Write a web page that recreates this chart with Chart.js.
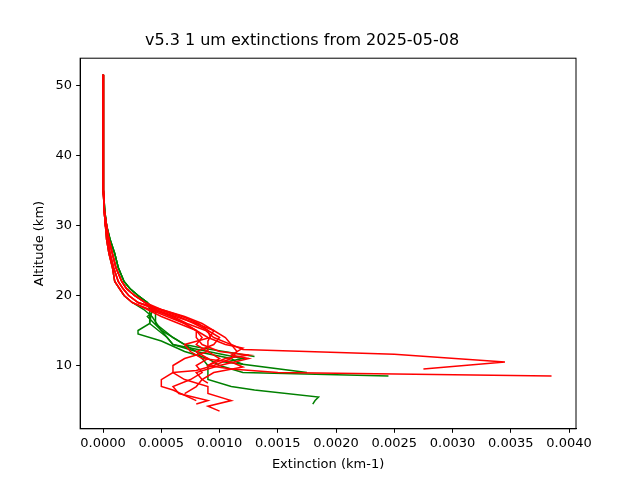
<!DOCTYPE html>
<html><head><meta charset="utf-8">
<script src="https://cdn.jsdelivr.net/npm/chart.js@4"></script>
<style>body{margin:0;background:#fff}#w{width:640px;height:480px}</style>
</head><body><div id="w"><canvas id="c"></canvas></div>
<script>
const titleText = "v5.3 1 um extinctions from 2025-05-08";
const xTicksLabel = "Extinction (km-1)";
const yTicksLabel = "Altitude (km)";
const xTickValues = [0,0.0005,0.001,0.0015,0.002,0.0025,0.003,0.0035,0.004];
const yTickValues = [10,20,30,40,50];
const upperA = [[0,51.5],[0,45],[0.000002,40],[0.000005,35],[0.00001,32],[0.00002,30],[0.00004,28],[0.00006,26],[0.00009,24],[0.00013,22],[0.00017,21],[0.00022,20],[0.0003,19]];
const upperB = [[0,51.5],[0,45],[0.000002,40],[0.000006,35],[0.000012,32],[0.00003,30],[0.00005,28],[0.00008,26],[0.00011,24],[0.00016,22],[0.0002,21],[0.00027,20],[0.00036,19]];
const upperC = [[0,51.5],[0,45],[0.000001,40],[0.000004,35],[0.00001,32],[0.00002,30],[0.00003,28],[0.00005,26],[0.00008,24],[0.0001,22],[0.00014,21],[0.00018,20],[0.00025,19]];
const upperG = [[0,51.5],[0,45],[0.000002,40],[0.000006,35],[0.000015,32],[0.00003,30],[0.00006,28],[0.0001,26],[0.00013,24],[0.00018,22],[0.00023,21],[0.0003,20],[0.00038,19]];
const red1 = [...upperA,[0.00045,18],[0.00062,17],[0.0008,16],[0.00095,15],[0.00105,14],[0.0011,13],[0.0012,12.3],[0.0025,11.6],[0.00345,10.5],[0.00275,9.5]];
const red2 = [...upperB,[0.0005,18],[0.0007,17],[0.00085,16],[0.00095,15],[0.0009,13.5],[0.0009,12],[0.001,11],[0.0009,10],[0.0011,9.5],[0.0015,9],[0.00385,8.5]];
const red3 = [...upperC,[0.0004,18],[0.00055,17],[0.0007,16],[0.0008,15],[0.00085,14],[0.0008,13],[0.0009,12],[0.0007,11],[0.0006,10],[0.0006,9],[0.0007,8],[0.0009,7],[0.0009,6],[0.0011,5],[0.0009,4.2],[0.001,3.5]];
const red4 = [...upperA,[0.00048,18],[0.00065,17],[0.00078,16],[0.0009,15],[0.001,14],[0.00095,13],[0.0008,12],[0.0009,11],[0.0008,10],[0.00085,9],[0.00075,8],[0.0006,7],[0.00065,6],[0.0009,5],[0.0008,4.5]];
const red5 = [...upperB,[0.00042,18],[0.0006,17],[0.00072,16],[0.00088,15],[0.00095,14],[0.0011,13],[0.00115,12],[0.0011,11],[0.00095,10],[0.0008,9.3],[0.0006,9],[0.0005,8],[0.0005,7],[0.0006,6.5],[0.0008,5]];
const red6 = [...upperC,[0.00038,18],[0.0005,17],[0.00065,16],[0.0008,15],[0.0009,14],[0.00105,13],[0.0012,12.5],[0.0011,11.5],[0.00125,11],[0.001,10],[0.0008,9],[0.00085,8],[0.0008,7],[0.0007,6]];
const red7 = [...upperA,[0.0005,18],[0.00068,17],[0.00082,16],[0.0009,15],[0.00092,14],[0.0007,13],[0.00075,12],[0.00085,11],[0.0011,10.5],[0.0012,9.8],[0.00095,9],[0.00085,8],[0.0009,7.5]];
const red8 = [...upperB,[0.00044,18],[0.00058,17],[0.0007,16],[0.0008,15],[0.0008,14],[0.00085,13],[0.001,12],[0.00125,11.5],[0.00105,11],[0.0009,10]];
const green1 = [...upperG,[0.00042,18],[0.0004,16],[0.0003,15],[0.0003,14.5],[0.0005,13.5],[0.0007,12],[0.0009,11],[0.001,10],[0.0012,9],[0.00245,8.5]];
const green2 = [...upperC,[0.00035,18],[0.00042,17],[0.0005,15],[0.0006,13],[0.0008,12],[0.0009,10],[0.0009,8],[0.0011,7],[0.0013,6.5],[0.00185,5.5],[0.00182,5],[0.0018,4.5]];
const green3 = [...upperG,[0.0004,18],[0.0004,16],[0.00055,14],[0.0006,13],[0.0009,12],[0.0012,11],[0.00105,10.5],[0.00175,9]];
const green4 = [...upperB,[0.00045,18],[0.00038,17],[0.0005,15],[0.0007,13],[0.00085,12.5],[0.0013,11.3]];
const green5 = [...upperG,[0.00045,18],[0.00045,16],[0.0006,14],[0.0008,12],[0.0011,11],[0.00115,10.5],[0.0012,10.2]];
const reds = [red1,red2,red3,red4,red5,red6,red7,red8];
const greens = [green1,green2,green3,green4,green5];
const ds = [];
reds.forEach(p=>ds.push({data:p.map(a=>({x:a[0],y:a[1]})),borderColor:'#ff0000'}));
greens.forEach(p=>ds.push({data:p.map(a=>({x:a[0],y:a[1]})),borderColor:'#008000'}));
ds.forEach(d=>{d.showLine=true;d.pointRadius=0;d.borderWidth=1.5;d.fill=false;});
const F="'DejaVu Sans'";
const box={id:'box',afterDraw(c){const a=c.chartArea,x=c.ctx;x.save();x.strokeStyle='#000';x.lineWidth=1;x.strokeRect(a.left,a.top,a.right-a.left,a.bottom-a.top);x.restore();}};
const g={display:true,drawOnChartArea:false,drawTicks:true,tickLength:4,color:'#000'};
new Chart(document.getElementById('c'),{type:'scatter',data:{datasets:ds},plugins:[box],
options:{responsive:true,maintainAspectRatio:false,animation:false,
layout:{padding:{left:28,right:64,top:0,bottom:4}},
plugins:{legend:{display:false},tooltip:{enabled:false},
title:{display:true,text:titleText,color:'#000',font:{family:F,size:16,weight:'normal'},padding:{top:31,bottom:8}}},
scales:{
x:{type:'linear',min:-0.000197,max:0.00406,grid:g,border:{color:'#000'},
ticks:{color:'#000',font:{family:F,size:13},padding:3,callback:v=>Math.abs(v)<1e-9?'0.0000':v.toFixed(4)},
afterBuildTicks:a=>{a.ticks=xTickValues.map(v=>({value:v}));},
title:{display:true,text:xTicksLabel,color:'#000',font:{family:F,size:13},padding:{top:2}}},
y:{type:'linear',min:0.97,max:53.87,grid:g,border:{color:'#000'},
afterBuildTicks:a=>{a.ticks=yTickValues.map(v=>({value:v}));},
ticks:{color:'#000',font:{family:F,size:13},padding:4},
title:{display:true,text:yTicksLabel,color:'#000',font:{family:F,size:13}}}}}});
</script></body></html>
